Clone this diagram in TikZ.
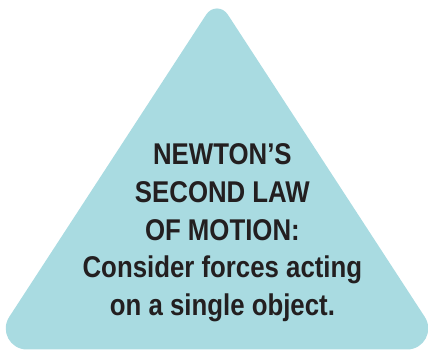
\documentclass[tikz,border=0pt]{standalone}
\usepackage{fontspec}
\setmainfont{Liberation Sans}[FakeStretch=0.86]
\usepackage{xcolor}
\usepackage{tikz}
\usetikzlibrary{calc}
\definecolor{panel}{HTML}{A9DBE1}
\definecolor{ink}{HTML}{231F20}

\begin{document}
\begin{tikzpicture}[x=1pt, y=1pt, font=\bfseries\fontsize{30}{37.8}\selectfont]
  \useasboundingbox (0,0) rectangle (428,352);
  \coordinate (apex) at (217,354);
  \coordinate (left) at (-12,2.5);
  \coordinate (right) at (446,2.5);
  \fill[panel] ($(left)!39pt!(apex)$) -- ($(apex)!20pt!(left)$)
    .. controls ($(apex)!10pt!(left)$) and ($(apex)!10pt!(right)$) .. ($(apex)!20pt!(right)$)
    -- ($(right)!39pt!(apex)$)
    .. controls ($(right)!22pt!(apex)$) and ($(right)!22pt!(left)$) .. ($(right)!39pt!(left)$)
    -- ($(left)!39pt!(right)$)
    .. controls ($(left)!22pt!(right)$) and ($(left)!22pt!(apex)$) .. cycle;
  \node[text=ink, align=center, anchor=north, inner sep=0pt] (law) at (222.4,208.7)
    {NEWTON’S\\SECOND LAW\\OF MOTION:\\Consider forces acting\\on a single object.};
\end{tikzpicture}
\end{document}
